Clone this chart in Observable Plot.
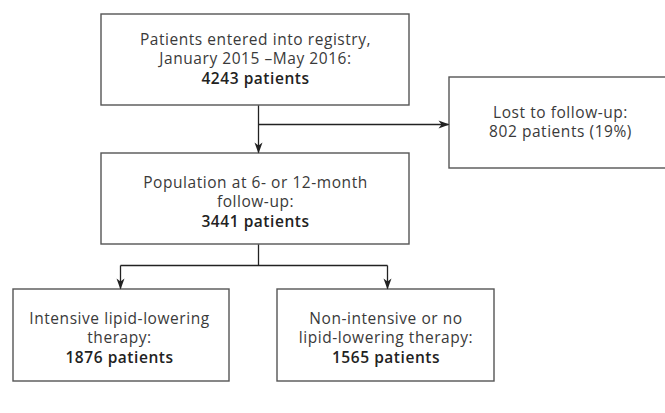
<!DOCTYPE html>
<html>
<head>
<meta charset="utf-8">
<script src="https://cdn.jsdelivr.net/npm/d3@7"></script>
<script src="https://cdn.jsdelivr.net/npm/@observablehq/plot@0.6"></script>
<style>
  html, body { margin: 0; padding: 0; background: #fff; }
  #chart svg { display: block; }
  #chart text { letter-spacing: 0.55px; }
</style>
</head>
<body>
<div id="chart"></div>
<script>
// ---- data ----
const stages = ["registry", "lost", "population", "intensive", "nonintensive"];
const descriptions = [
  ["Patients entered into registry,", "January 2015 \u2013May 2016:"],
  ["Lost to follow-up:", "802 patients (19%)"],
  ["Population at 6- or 12-month", "follow-up:"],
  ["Intensive lipid-lowering", "therapy:"],
  ["Non-intensive or no", "lipid-lowering therapy:"]
];
const patientCounts = [4243, 802, 3441, 1876, 1565];
const boldLabels = ["4243 patients", null, "3441 patients", "1876 patients", "1565 patients"];
const flows = [
  ["registry", "population"],
  ["registry", "lost"],
  ["population", "intensive"],
  ["population", "nonintensive"]
];

// ---- layout (pixel space of the flowchart) ----
const W = 665, H = 413;
const layout = {
  registry:     {x1: 101, x2: 409, y1: 14,  y2: 105, first: 44},
  lost:         {x1: 449, x2: 671, y1: 77,  y2: 168, first: 117},
  population:   {x1: 101, x2: 409, y1: 153, y2: 244, first: 187},
  intensive:    {x1: 13,  x2: 229, y1: 289, y2: 381, first: 323},
  nonintensive: {x1: 277, x2: 494, y1: 289, y2: 381, first: 323}
};
const lineGap = 19.5;

const boxes = stages.map((s, i) => ({stage: s, ...layout[s], count: patientCounts[i]}));
const normalLines = [];
const boldLines = [];
stages.forEach((s, i) => {
  const b = layout[s];
  const cx = (b.x1 + b.x2) / 2 + (s === "intensive" ? -2 : 0);
  descriptions[i].forEach((t, j) => normalLines.push({x: cx, y: b.first + j * lineGap, text: t}));
  if (boldLabels[i]) boldLines.push({x: cx, y: b.first + descriptions[i].length * lineGap, text: boldLabels[i]});
});

// connectors
const segs = [];
const heads = [];
const reg = layout.registry, pop = layout.population, lost = layout.lost;
const trunkX = 258;
segs.push({x1: trunkX, y1: reg.y2, x2: trunkX, y2: pop.y1 - 1});
heads.push({x: trunkX, y: pop.y1, rot: 180});
const branchY = 124;
segs.push({x1: trunkX, y1: branchY, x2: lost.x1 - 1, y2: branchY});
heads.push({x: lost.x1, y: branchY, rot: 90});
const splitY = 265;
const childX = [120, 387];
segs.push({x1: trunkX, y1: pop.y2, x2: trunkX, y2: splitY});
segs.push({x1: childX[0], y1: splitY, x2: childX[1], y2: splitY});
childX.forEach((cx, k) => {
  const child = layout[flows[2 + k][1]];
  segs.push({x1: cx, y1: splitY, x2: cx, y2: child.y1 - 1});
  heads.push({x: cx, y: child.y1, rot: 180});
});

const arrowHead = {
  draw(ctx, size) {
    const L = 11, w = 4;
    ctx.moveTo(0, 0);
    ctx.lineTo(w, L);
    ctx.lineTo(0, L - 3);
    ctx.lineTo(-w, L);
    ctx.closePath();
  }
};

const font = "'Open Sans', Lato, sans-serif";

const chart = Plot.plot({
  width: W,
  height: H,
  margin: 0,
  x: {domain: [0, W], range: [0, W], axis: null},
  y: {domain: [0, H], range: [0, H], axis: null},
  style: {fontFamily: font, background: "#fff"},
  marks: [
    Plot.rect(boxes, {x1: "x1", x2: "x2", y1: "y1", y2: "y2", fill: "#fff", stroke: "#555", strokeWidth: 1.4}),
    Plot.link(segs, {x1: "x1", y1: "y1", x2: "x2", y2: "y2", stroke: "#222", strokeWidth: 1.3}),
    Plot.dot(heads, {x: "x", y: "y", rotate: "rot", symbol: arrowHead, r: 5, fill: "#222", stroke: "none"}),
    Plot.text(normalLines, {x: "x", y: "y", text: "text", lineAnchor: "bottom", textAnchor: "middle", fontSize: 15.5, fill: "#3a3a3a", fontWeight: 400}),
    Plot.text(boldLines, {x: "x", y: "y", text: "text", lineAnchor: "bottom", textAnchor: "middle", fontSize: 15.5, fill: "#222", fontWeight: 600})
  ]
});
document.getElementById("chart").appendChild(chart);
</script>
</body>
</html>
